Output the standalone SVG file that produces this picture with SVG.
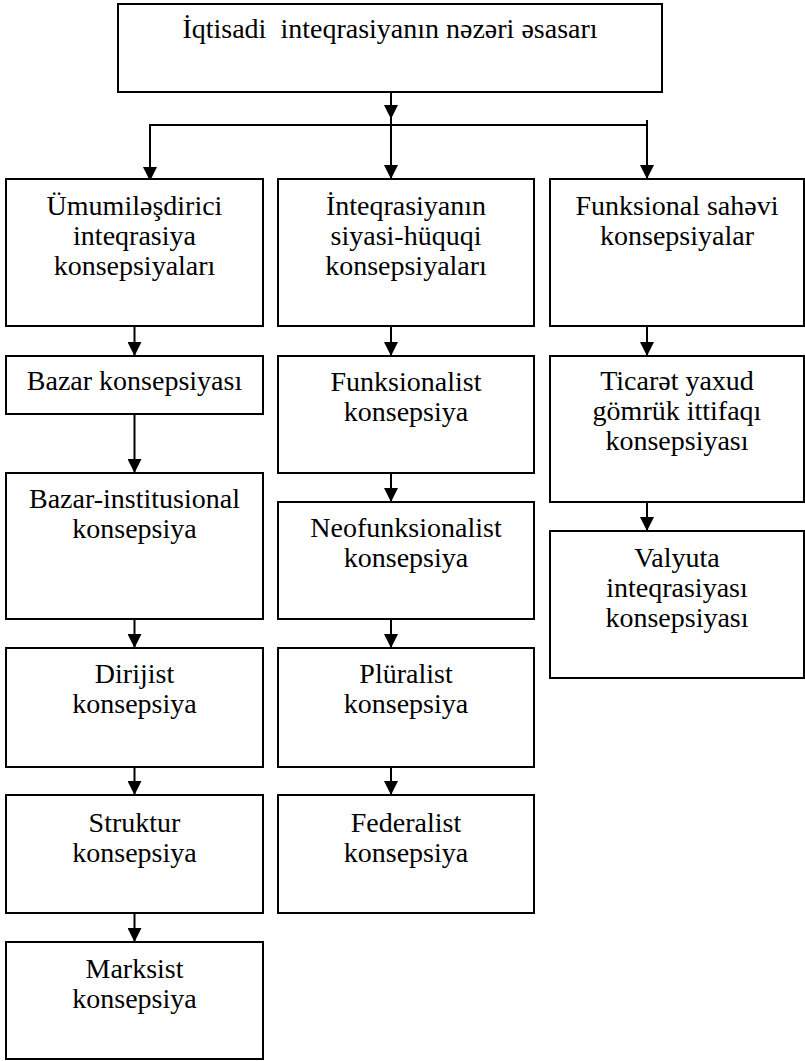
<svg xmlns="http://www.w3.org/2000/svg" width="805" height="1061" viewBox="0 0 805 1061">
<style>
rect{fill:#fff;stroke:#000;stroke-width:2}
text{font-size:28px;fill:#000;text-anchor:middle}
.c{stroke:#000;stroke-width:2;fill:none}
</style>
<defs>
<marker id="ah" markerUnits="userSpaceOnUse" markerWidth="14" markerHeight="14" refX="14" refY="7" orient="auto" viewBox="0 0 14 14">
<path d="M0,0 L14,7 L0,14 z" fill="#000"/>
</marker>
</defs>
<rect width="805" height="1061" fill="#fff" stroke="none" style="stroke:none"/>
<g id="connectors">
<line class="c" x1="391" y1="92" x2="391" y2="125"/>
<line class="c" x1="391" y1="92" x2="391" y2="119" marker-end="url(#ah)"/>
<line class="c" x1="149" y1="125" x2="648" y2="125"/>
<line class="c" x1="150" y1="125" x2="150" y2="181" marker-end="url(#ah)"/>
<line class="c" x1="391" y1="125" x2="391" y2="179" marker-end="url(#ah)"/>
<line class="c" x1="647" y1="120" x2="647" y2="179" marker-end="url(#ah)"/>
<line class="c" x1="134.5" y1="326" x2="134.5" y2="356" marker-end="url(#ah)"/>
<line class="c" x1="134.5" y1="414" x2="134.5" y2="473" marker-end="url(#ah)"/>
<line class="c" x1="134.5" y1="619" x2="134.5" y2="648" marker-end="url(#ah)"/>
<line class="c" x1="134.5" y1="767" x2="134.5" y2="795" marker-end="url(#ah)"/>
<line class="c" x1="134.5" y1="913" x2="134.5" y2="942" marker-end="url(#ah)"/>
<line class="c" x1="391" y1="326" x2="391" y2="356" marker-end="url(#ah)"/>
<line class="c" x1="391" y1="473" x2="391" y2="502" marker-end="url(#ah)"/>
<line class="c" x1="391" y1="619" x2="391" y2="648" marker-end="url(#ah)"/>
<line class="c" x1="391" y1="767" x2="391" y2="795" marker-end="url(#ah)"/>
<line class="c" x1="647" y1="326" x2="647" y2="356" marker-end="url(#ah)"/>
<line class="c" x1="647" y1="502" x2="647" y2="531" marker-end="url(#ah)"/>
</g>
<g font-family="Liberation Serif, DejaVu Serif, serif">
<g id="root">
<rect x="118" y="4" width="544" height="88"/>
<text x="390" y="38" xml:space="preserve">İqtisadi  inteqrasiyanın nəzəri əsasarı</text>
</g>
<g id="n-umumi">
<rect x="6" y="179" width="257" height="147"/>
<text x="134.5" y="215">Ümumiləşdirici</text>
<text x="134.5" y="245">inteqrasiya</text>
<text x="134.5" y="275">konsepsiyaları</text>
</g>
<g id="n-siyasi">
<rect x="278" y="179" width="256" height="147"/>
<text x="406" y="215">İnteqrasiyanın</text>
<text x="406" y="245">siyasi-hüquqi</text>
<text x="406" y="275">konsepsiyaları</text>
</g>
<g id="n-funksional">
<rect x="550" y="179" width="254" height="147"/>
<text x="677" y="215">Funksional sahəvi</text>
<text x="677" y="245">konsepsiyalar</text>
</g>
<g id="n-bazar">
<rect x="6" y="356" width="257" height="58"/>
<text x="134.5" y="390">Bazar konsepsiyası</text>
</g>
<g id="n-bazar-inst">
<rect x="6" y="473" width="257" height="146"/>
<text x="134.5" y="508">Bazar-institusional</text>
<text x="134.5" y="538">konsepsiya</text>
</g>
<g id="n-dirijist">
<rect x="6" y="648" width="257" height="119"/>
<text x="134.5" y="683">Dirijist</text>
<text x="134.5" y="713">konsepsiya</text>
</g>
<g id="n-struktur">
<rect x="6" y="795" width="257" height="118"/>
<text x="134.5" y="832">Struktur</text>
<text x="134.5" y="862">konsepsiya</text>
</g>
<g id="n-marksist">
<rect x="6" y="942" width="257" height="117"/>
<text x="134.5" y="978">Marksist</text>
<text x="134.5" y="1008">konsepsiya</text>
</g>
<g id="n-funksionalist">
<rect x="278" y="356" width="256" height="117"/>
<text x="406" y="391">Funksionalist</text>
<text x="406" y="421">konsepsiya</text>
</g>
<g id="n-neofunksionalist">
<rect x="278" y="502" width="256" height="117"/>
<text x="406" y="537">Neofunksionalist</text>
<text x="406" y="567">konsepsiya</text>
</g>
<g id="n-pluralist">
<rect x="278" y="648" width="256" height="119"/>
<text x="406" y="683">Plüralist</text>
<text x="406" y="713">konsepsiya</text>
</g>
<g id="n-federalist">
<rect x="278" y="795" width="256" height="118"/>
<text x="406" y="832">Federalist</text>
<text x="406" y="862">konsepsiya</text>
</g>
<g id="n-ticaret">
<rect x="550" y="356" width="254" height="146"/>
<text x="677" y="390">Ticarət yaxud</text>
<text x="677" y="420">gömrük ittifaqı</text>
<text x="677" y="450">konsepsiyası</text>
</g>
<g id="n-valyuta">
<rect x="550" y="531" width="254" height="147"/>
<text x="677" y="567">Valyuta</text>
<text x="677" y="597">inteqrasiyası</text>
<text x="677" y="627">konsepsiyası</text>
</g>
</g>
</svg>
